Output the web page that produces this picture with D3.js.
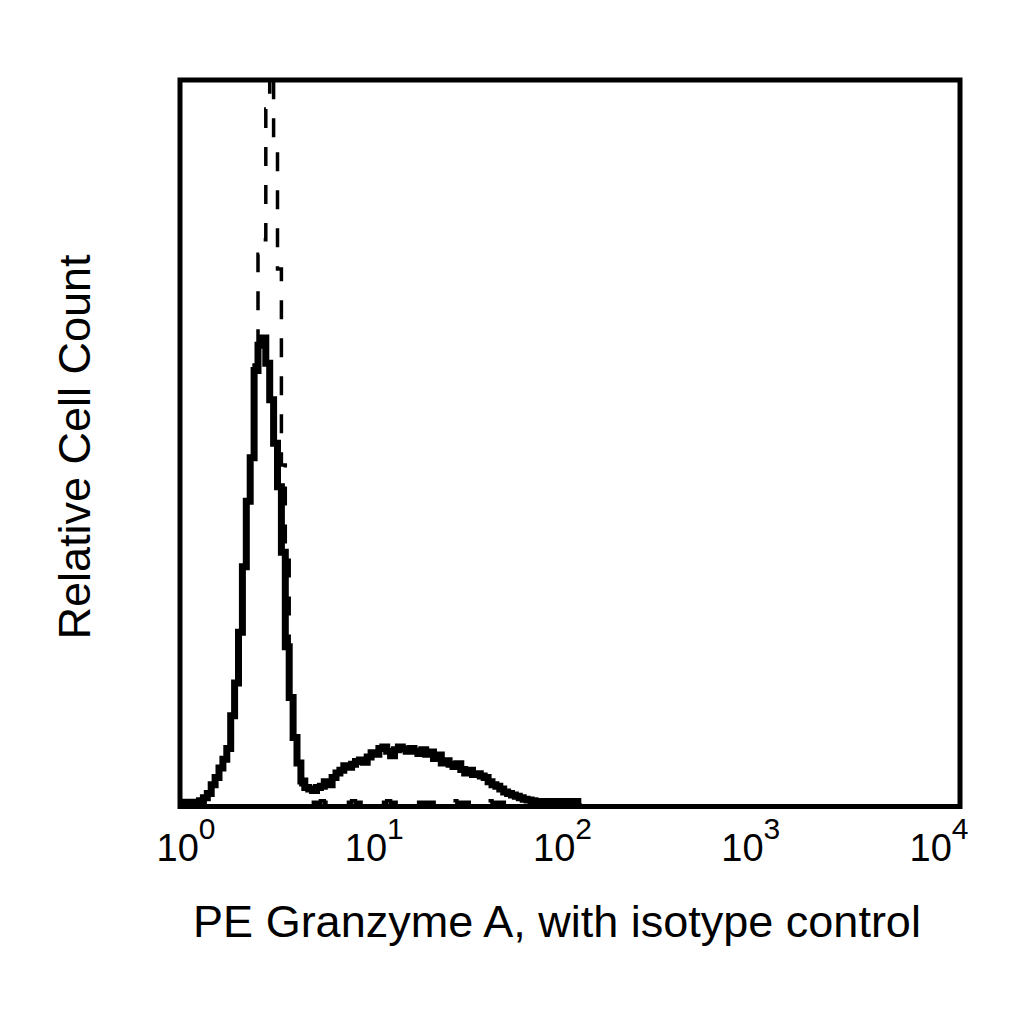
<!DOCTYPE html>
<html>
<title>PE Granzyme A</title>
<meta charset="UTF-8">
	<script type="text/javascript" src="https://d3js.org/d3.v7.min.js"></script>
		<style type="text/css">
			body {
				margin:0;
				background-color: white;
			}
			text {
				font-family: Arial, "Liberation Sans", sans-serif;
				fill: black;
			}
		</style>

	<body>
		<svg id="viz"></svg>
	</body>

	<script type="text/javascript">

		// histogram channels: each bin is 0.02 decade wide, starting at 10^0
		var binWidthDecades = 0.02;

		// stained sample (solid), relative count per channel
		var granzymeCounts = [
			0.6,0.6,0.6,0.6,0.6,0.8,1.2,1.8,3.0,4.0,
			5.3,6.5,8.0,12.5,17,24,33,42,48,60,
			63.5,64.5,61,56,50,44,35,22,15,9.5,
			6,3.5,2.6,2.4,2.2,2.6,2.8,3.4,3.0,4.0,
			4.6,5.0,5.6,5.4,5.8,6.2,6.4,6.1,6.8,7.4,
			7.2,8.0,8.2,7.6,7.0,7.8,8.2,7.9,7.6,8.0,
			7.6,7.3,7.8,7.2,7.5,6.6,7.1,6.0,6.3,5.8,
			5.5,5.9,5.1,4.6,5.0,4.4,4.5,4.2,4.0,3.4,
			3.0,2.8,2.4,2.0,1.8,1.6,1.4,1.2,1.0,0.9,
			0.8,0.7,0.7,0.7,0.7,0.7,0.7,0.7,0.7,0.7,
			0.7,0.7,0
		];

		// isotype control (dashed)
		var isotypeCounts = [
			0.6,0.6,0.6,0.6,0.6,0.8,1.2,1.8,3.0,4.0,
			5.3,6.5,8.0,12.5,17,24,33,42,48,63,
			76,78,96,104,92,74,47,36,16,10.5,
			6.5,3,1.0,0.6,0.6,0.6,0.8,0.6,0.6,0.6,
			0.6,0.6,0.6,0.6,0.8,0.6,0.6,0.6,0.6,0.6,
			0.6,0.6,0.6,0.8,0.6,0.6,0.6,0.6,0.6,0.6,
			0.6,0.6,0.6,0.6,0.6,0.6,0.6,0.6,0.6,0.6,
			0.8,0.6,0.6,0.6,0.6,0.6,0.6,0.6,0.6,0.8,
			0.6,0.6,0.6,0.6,0.6,0.6,0.6,0.6,0
		];

		var tickValues = [1, 10, 100, 1000, 10000];
		var tickExponents = ["0", "1", "2", "3", "4"];

		var xTitle = "PE Granzyme A, with isotype control";
		var yTitle = "Relative Cell Count";

		var plot = {left: 180, right: 960, top: 80, bottom: 806.5};

		var svg = d3.select("#viz")
			.attr("width", 1024)
			.attr("height", 1024);

		var xScale = d3.scaleLog()
			.domain([1, 10000])
			.range([plot.left, plot.right]);

		// labels in the original sit a little inside the frame ends
		var labelScale = d3.scaleLog()
			.domain([1, 10000])
			.range([186, 939]);

		var yScale = d3.scaleLinear()
			.domain([0, 100])
			.range([plot.bottom, plot.top]);

		function binEdge(i){
			return Math.pow(10, i * binWidthDecades);
		}

		function stepPoints(counts){
			var pts = counts.map(function(c, i){
				return {x: binEdge(i), y: c};
			});
			pts.push({x: binEdge(counts.length), y: counts[counts.length - 1]});
			return pts;
		}

		var line = d3.line()
			.x(function(d){ return xScale(d.x); })
			.y(function(d){ return yScale(d.y); })
			.curve(d3.curveStepAfter);

		svg.append("clipPath")
			.attr("id", "plotClip")
			.append("rect")
			.attr("x", plot.left)
			.attr("y", plot.top)
			.attr("width", plot.right - plot.left)
			.attr("height", plot.bottom - plot.top);

		var g = svg.append("g")
			.attr("clip-path", "url(#plotClip)");

		g.append("path")
			.datum(stepPoints(isotypeCounts))
			.attr("d", line)
			.attr("fill", "none")
			.attr("stroke", "black")
			.attr("stroke-width", 3.5)
			.attr("stroke-dasharray", "19,19");

		g.append("path")
			.datum(stepPoints(granzymeCounts))
			.attr("d", line)
			.attr("fill", "none")
			.attr("stroke", "black")
			.attr("stroke-width", 7)
			.attr("stroke-linejoin", "miter");

		// frame
		svg.append("rect")
			.attr("x", plot.left)
			.attr("y", plot.top)
			.attr("width", plot.right - plot.left)
			.attr("height", plot.bottom - plot.top)
			.attr("fill", "none")
			.attr("stroke", "black")
			.attr("stroke-width", 5);

		// tick labels 10^n
		var labels = svg.selectAll("text.tick")
			.data(tickValues)
			.enter().append("text")
			.attr("class", "tick")
			.attr("x", function(d){ return labelScale(d); })
			.attr("y", 861)
			.attr("text-anchor", "middle")
			.style("font-size", "38px");

		labels.append("tspan")
			.text("10");

		labels.append("tspan")
			.attr("dy", -22)
			.style("font-size", "30px")
			.text(function(d, i){ return tickExponents[i]; });

		svg.append("text")
			.attr("x", 557)
			.attr("y", 937)
			.attr("text-anchor", "middle")
			.style("font-size", "45px")
			.text(xTitle);

		svg.append("text")
			.attr("transform", "translate(90,447) rotate(-90)")
			.attr("text-anchor", "middle")
			.style("font-size", "45px")
			.text(yTitle);

	</script>

</html>
